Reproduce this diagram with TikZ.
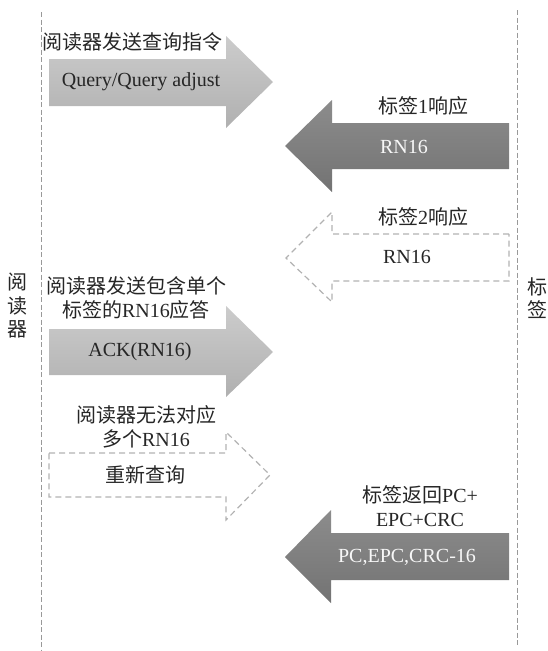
\documentclass[tikz,border=0pt]{standalone}
\usepackage{fontspec}
\setmainfont{Liberation Serif}
\newfontfamily\cjk{Noto Sans CJK SC}
\begin{document}
\begin{tikzpicture}[x=1pt,y=-1pt,
  lbl/.style={font=\fontsize{20}{24.5}\selectfont, inner sep=0pt, text=black!85, align=center},
  lightarrow/.style={top color=gray!40, bottom color=gray!62, draw=none},
  darkarrow/.style={draw=none, top color=black!45, bottom color=black!55},
  dasharrow/.style={draw=gray!60, dash pattern=on 6pt off 4pt, line width=1.2pt, fill=none},
  lifeline/.style={draw=gray!80, dash pattern=on 5pt off 2.5pt, line width=0.8pt},
  wtxt/.style={lbl, text=white!94!gray}]
\useasboundingbox (0,0) rectangle (548,651);
% lifelines
\coordinate (rt) at (41,12); \coordinate (rb) at (41,651);
\coordinate (tt) at (517,10); \coordinate (tb) at (517,646);
\draw[lifeline] (rt) -- (rb);
\draw[lifeline] (tt) -- (tb);
% side labels
\node[lbl] (reader) at (17,306) {\cjk 阅\\[-1pt]\cjk 读\\[-1pt]\cjk 器};
\node[lbl] (tag) at (537,298) {\cjk 标\\[-1pt]\cjk 签};
% arrow 1
\path[lightarrow] (49,59) -- (226,59) -- (226,36) -- (273,82) -- (226,128) -- (226,106) -- (49,106) -- cycle;
\node[lbl] (l1) at (132,42) {\cjk 阅读器发送查询指令};
\node[lbl] (a1) at (141,82) {Query/Query adjust};
% arrow 2
\path[darkarrow] (509,123) -- (332,123) -- (332,100) -- (285,146) -- (332,192) -- (332,169) -- (509,169) -- cycle;
\node[lbl] (l2) at (423,106) {{\cjk 标签}1{\cjk 响应}};
\node[wtxt] (a2) at (404,147) {RN16};
% arrow 3 dashed
\draw[dasharrow] (509,234) -- (332,234) -- (332,212) -- (286,258) -- (332,302) -- (332,281) -- (509,281) -- cycle;
\node[lbl] (l3) at (423,217) {{\cjk 标签}2{\cjk 响应}};
\node[lbl] (a3) at (407,257) {RN16};
% arrow 4
\path[lightarrow] (49,329) -- (226,329) -- (226,306) -- (273,352) -- (226,397) -- (226,375) -- (49,375) -- cycle;
\node[lbl] (l4) at (136,298) {{\cjk 阅读器发送包含单个}\\{\cjk 标签的}RN16{\cjk 应答}};
\node[lbl] (a4) at (140,352) {ACK(RN16)};
% arrow 5 dashed
\draw[dasharrow] (49,453) -- (226,453) -- (226,432) -- (270,475) -- (226,520) -- (226,497) -- (49,497) -- cycle;
\node[lbl] (l5) at (146,427) {{\cjk 阅读器无法对应}\\{\cjk 多个}RN16};
\node[lbl] (a5) at (145,475) {\cjk 重新查询};
% arrow 6
\path[darkarrow] (509,533) -- (331,533) -- (331,510) -- (285,557) -- (331,603) -- (331,580) -- (509,580) -- cycle;
\node[lbl] (l6) at (420,506) {{\cjk 标签返回}PC+\\EPC+CRC};
\node[wtxt] (a6) at (407,557) {PC,EPC,CRC-16};
\end{tikzpicture}
\end{document}
